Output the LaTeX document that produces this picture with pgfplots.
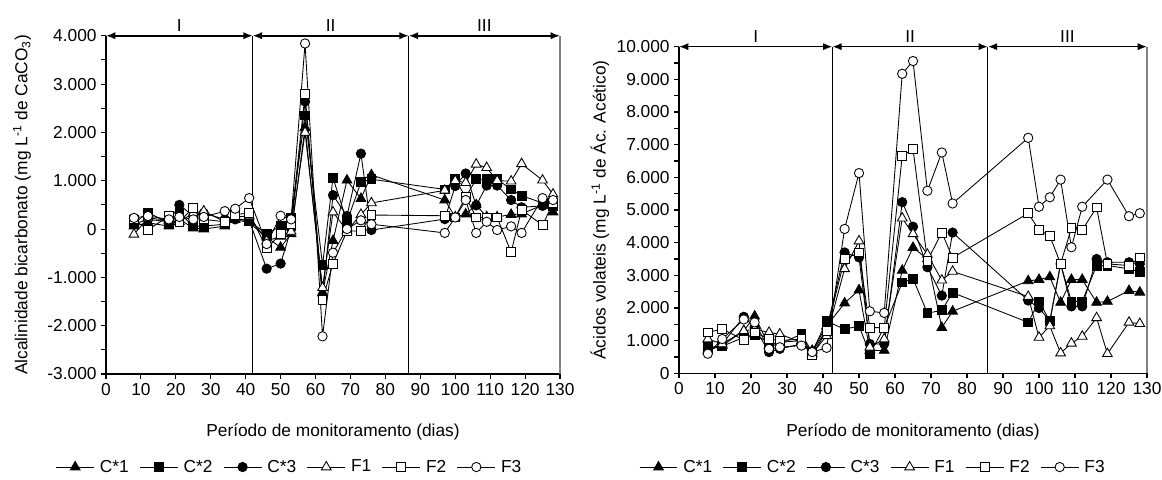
\documentclass[border=0pt]{standalone}
\usepackage{fontspec}
\setmainfont{Liberation Sans}
\usepackage{pgfplots}
\usepackage{pgfplotstable}
\pgfplotsset{compat=1.18}
\usetikzlibrary{arrows.meta}

% Alcalinidade bicarbonato (mg/L CaCO3)
\pgfplotstableread{
day c1 c2 c3 f1 f2 f3
8 60 120 100 -110 200 230
12 130 340 200 230 -20 270
18 60 130 150 180 270 200
21 200 330 500 150 150 250
25 20 60 270 330 440 200
28 0 60 330 370 200 250
34 60 100 200 150 150 370
37 200 230 200 250 300 420
41 130 160 180 270 330 640
46 -170 -100 -820 -250 -400 -310
50 -380 60 -715 -150 -100 275
53 -100 240 0 -50 100 200
57 2100 2350 2640 2000 2790 3840
62 -1320 -750 -1375 -1215 -1460 -2220
65 -240 1060 700 350 -715 -490
69 1010 150 270 -35 -40 0
73 630 970 1560 300 -40 180
76 1120 1030 -20 540 290 100
97 600 820 205 800 275 -80
100 250 1030 890 1000 240 240
103 310 660 1150 960 670 600
106 500 1030 490 1340 240 -80
109 250 1030 900 1270 240 150
112 250 1030 900 1000 240 -20
116 300 820 600 990 -480 55
119 310 690 450 1350 400 -80
125 500 540 480 1010 80 640
128 350 480 450 720 540 600
}\alk

% Acidos volateis (mg/L Ac. Acetico)
\pgfplotstableread{
day c1 c2 c3 f1 f2 f3
8 700 800 700 1050 1250 600
12 850 830 900 900 1360 1050
18 1300 1100 1730 1300 1020 1650
21 1750 1170 1400 1350 1250 1560
25 850 950 650 1250 1050 750
28 950 900 750 1200 1000 800
34 1000 1200 900 950 1050 850
37 700 650 650 600 560 650
41 1450 1600 1350 1150 1300 780
46 2150 1350 3700 3200 3500 4420
50 2550 1450 3550 4050 3700 6130
53 700 600 900 800 1400 1900
57 700 1400 900 1050 1400 1850
62 3150 2780 5240 4750 6660 9170
65 3850 2900 4490 4270 6870 9560
69 3500 1840 3250 3640 3450 5590
73 1400 1930 2380 2850 4310 6760
76 1900 2470 4310 3120 3540 5200
97 2830 1560 2230 2350 4900 7210
100 2870 2200 2000 1100 4390 5100
103 2950 1600 1600 1450 4210 5390
106 2170 3350 3350 620 3350 5930
109 2870 2200 2050 920 4450 3860
112 2870 2200 2050 1130 4390 5100
116 2170 3300 3500 1700 5080 nan
119 2200 3300 3400 600 3350 5930
125 2530 3200 3400 1560 3300 4810
128 2480 3100 3350 1520 3550 4900
}\vfa

\newcommand{\fs}{\fontsize{13pt}{15.5pt}\selectfont}

\pgfplotsset{
  base/.style={
    scale only axis,
    clip=false,
    axis x line*=bottom,
    axis y line*=left,
    axis line style={black, line width=1pt},
    xmin=0, xmax=130,
    xtick={0,10,...,130},
    tick align=outside,
    major tick length=3.5pt,
    minor tick length=3.5pt,
    minor y tick num=1,
    tick style={black, line width=0.8pt},
    scaled y ticks=false,
    scaled x ticks=false,
    /pgf/number format/assume math mode=true,
    /pgf/number format/1000 sep={.},
    tick label style={font=\fs},
    label style={font=\fs},
    xlabel={Período de monitoramento (dias)},
    legend columns=6,
    legend cell align=left,
    legend image code/.code={\draw[mark repeat=2,mark phase=2] plot coordinates {(0cm,0cm) (0.5cm,0cm) (1.0cm,0cm)};},
  },
  s1/.style={black, line width=0.65pt, mark=triangle*, mark size=4.2pt, mark options={solid, fill=black}},
  s2/.style={black, line width=0.65pt, mark=square*, mark size=3.3pt, mark options={solid, fill=black}},
  s3/.style={black, line width=0.65pt, mark=*, mark size=3.5pt, mark options={solid, fill=black}},
  s4/.style={black, line width=0.65pt, mark=triangle*, mark size=4.2pt, mark options={solid, fill=white}},
  s5/.style={black, line width=0.65pt, mark=square*, mark size=3.3pt, mark options={solid, fill=white}},
  s6/.style={black, line width=0.65pt, mark=*, mark size=3.5pt, mark options={solid, fill=white}},
}

\begin{document}
\begin{tikzpicture}
\path[use as bounding box] (0,0) rectangle (871.5pt,-359.25pt);

% ---------- Left chart ----------
\begin{axis}[base,
  at={(79.5pt,-280.5pt)}, anchor=south west,
  width=340.5pt, height=253.7pt,
  ymin=-3000, ymax=4000,
  ytick={-3000,-2000,...,4000},
  ylabel={Alcalinidade bicarbonato (mg L\textsuperscript{-1} de CaCO\textsubscript{3})},
  ylabel style={at={(axis description cs:-0.185,0.5)}, anchor=center},
  xlabel style={at={(axis description cs:0.5,-0.171)}, anchor=center},
  legend style={at={(axis description cs:0.405,-0.275)}, anchor=center, draw=none, fill=none, font=\fs,
    /tikz/every odd column/.append style={column sep=2pt},
    /tikz/every even column/.append style={column sep=6pt}},
]
\addplot[s1] table[x=day, y=c1] {\alk};
\addplot[s2] table[x=day, y=c2] {\alk};
\addplot[s3] table[x=day, y=c3] {\alk};
\addplot[s4] table[x=day, y=f1] {\alk};
\addplot[s5] table[x=day, y=f2] {\alk};
\addplot[s6] table[x=day, y=f3] {\alk};
\legend{C*1, C*2, C*3, F1, F2, F3}
\draw[line width=0.8pt] (axis cs:42,-3000) -- (axis cs:42,4000);
\draw[line width=0.8pt] (axis cs:86.7,-3000) -- (axis cs:86.7,4000);
\draw[gray, line width=0.8pt] (axis cs:130,-3000) -- (axis cs:130,4000);
\draw[line width=1.2pt, {Latex[length=7pt,width=5.5pt]}-{Latex[length=7pt,width=5.5pt]}] (axis cs:0,4000) -- (axis cs:42,4000);
\draw[line width=1.2pt, {Latex[length=7pt,width=5.5pt]}-{Latex[length=7pt,width=5.5pt]}] (axis cs:42,4000) -- (axis cs:86.7,4000);
\draw[line width=1.2pt, {Latex[length=7pt,width=5.5pt]}-{Latex[length=7pt,width=5.5pt]}] (axis cs:86.7,4000) -- (axis cs:130,4000);
\node[anchor=base, yshift=3.5pt, font=\fs] at (axis cs:21,4000) {I};
\node[anchor=base, yshift=3.5pt, font=\fs] at (axis cs:64.35,4000) {II};
\node[anchor=base, yshift=3.5pt, font=\fs] at (axis cs:108.35,4000) {III};
\end{axis}

% ---------- Right chart ----------
\begin{axis}[base,
  at={(509.25pt,-280pt)}, anchor=south west,
  width=351pt, height=245pt,
  ymin=0, ymax=10000,
  ytick={0,1000,...,10000},
  ylabel={Ácidos volateis (mg L\textsuperscript{-1} de Ác. Acético)},
  ylabel style={at={(axis description cs:-0.169,0.5)}, anchor=center},
  xlabel style={at={(axis description cs:0.5,-0.18)}, anchor=center},
  legend style={at={(axis description cs:0.415,-0.287)}, anchor=center, draw=none, fill=none, font=\fs,
    /tikz/every odd column/.append style={column sep=2pt},
    /tikz/every even column/.append style={column sep=6pt}},
]
\addplot[s1] table[x=day, y=c1] {\vfa};
\addplot[s2] table[x=day, y=c2] {\vfa};
\addplot[s3] table[x=day, y=c3] {\vfa};
\addplot[s4] table[x=day, y=f1] {\vfa};
\addplot[s5] table[x=day, y=f2] {\vfa};
\addplot[s6] table[x=day, y=f3] {\vfa};
\legend{C*1, C*2, C*3, F1, F2, F3}
\draw[line width=0.8pt] (axis cs:42.6,0) -- (axis cs:42.6,10000);
\draw[line width=0.8pt] (axis cs:85.8,0) -- (axis cs:85.8,10000);
\draw[gray, line width=0.8pt] (axis cs:130,0) -- (axis cs:130,10000);
\draw[line width=1.2pt, {Latex[length=7pt,width=5.5pt]}-{Latex[length=7pt,width=5.5pt]}] (axis cs:0,10000) -- (axis cs:42.6,10000);
\draw[line width=1.2pt, {Latex[length=7pt,width=5.5pt]}-{Latex[length=7pt,width=5.5pt]}] (axis cs:42.6,10000) -- (axis cs:85.8,10000);
\draw[line width=1.2pt, {Latex[length=7pt,width=5.5pt]}-{Latex[length=7pt,width=5.5pt]}] (axis cs:85.8,10000) -- (axis cs:130,10000);
\node[anchor=base, yshift=3.5pt, font=\fs] at (axis cs:21.3,10000) {I};
\node[anchor=base, yshift=3.5pt, font=\fs] at (axis cs:64.2,10000) {II};
\node[anchor=base, yshift=3.5pt, font=\fs] at (axis cs:107.9,10000) {III};
\end{axis}
\end{tikzpicture}
\end{document}
